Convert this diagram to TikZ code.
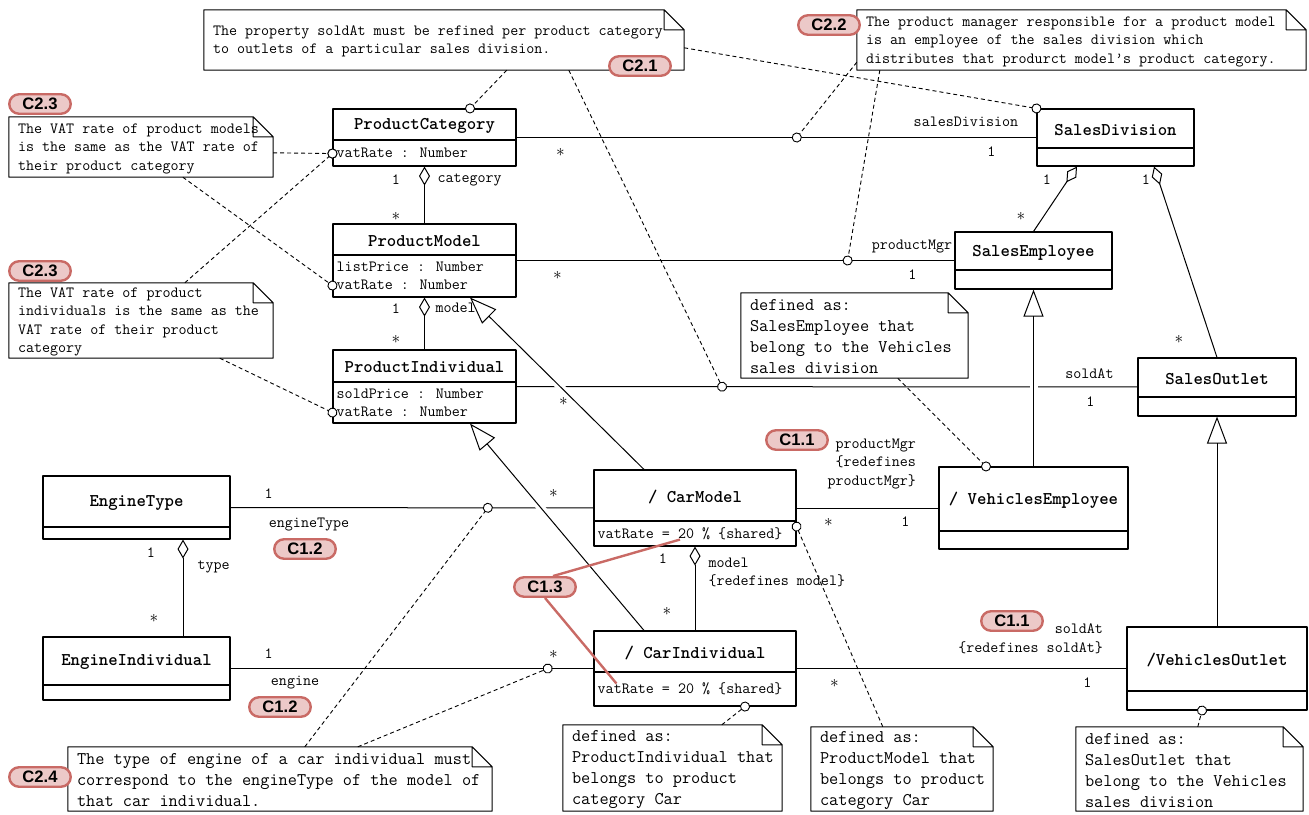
\documentclass[tikz,border=0pt]{standalone}
\usepackage{fontspec}
\newfontfamily\tagfont{Liberation Sans}
\usepackage{xcolor}
\usepackage{tikz}
\usetikzlibrary{positioning, arrows.meta, fit}

\definecolor{tagfill}{RGB}{236,201,200}
\definecolor{tagline}{RGB}{201,106,101}

\newcommand{\umlfont}{\fontsize{15.6}{18.5}\selectfont\ttfamily}
\newcommand{\umlattrfont}{\fontsize{15.6}{18}\selectfont\ttfamily}
\newcommand{\umlbigfont}{\fontsize{17.8}{21}\selectfont\ttfamily}
\newcommand{\umltitlefont}{\fontsize{17.9}{21}\selectfont\ttfamily\bfseries}

\tikzset{
  classbox/.style={draw, line width=1.1pt, inner sep=0pt},
  classname/.style={font=\umltitlefont, inner sep=0pt, yshift=-1.5pt},
  attrtext/.style={font=\umlattrfont, align=left, inner xsep=3.5pt, inner ysep=0pt},
  notebox/.style={inner sep=0pt},
  notetext/.style={align=left, inner xsep=9pt, inner ysep=0pt, yshift=-1.5pt},
  mult/.style={font=\umlfont, inner sep=0pt},
  many/.style={font=\fontsize{19}{19}\selectfont, inner sep=0pt},
  role/.style={font=\umlfont, inner sep=0pt, align=left},
  assoc/.style={line width=1pt},
  aggr/.style={line width=1pt, {Diamond[open, length=19pt, width=11pt]}-},
  gen/.style={line width=1pt, -{Triangle[open, length=27pt, width=20pt]},
    preaction={draw=white, line width=8pt, -, shorten <=8pt, shorten >=30pt}},
  notelink/.style={line width=0.9pt, dash pattern=on 4pt off 3pt,
    -{Circle[length=10pt, fill=white]}, shorten >=-5pt},
  tag/.style={draw=tagline, fill=tagfill, line width=2.4pt, rounded corners=9.75pt,
    minimum width=61.5pt, minimum height=19.5pt, inner sep=0pt,
    font=\tagfont\bfseries\fontsize{16.6}{18}\selectfont},
  redline/.style={draw=tagline, line width=2.4pt}
}

% class box: name, left, top, right, divider, bottom, title, attributes
\newcommand{\umlclass}[8]{%
  \node[classbox, fit={(#2,#3) (#4,#6)}] (#1) {};
  \draw[line width=1.1pt] (#2,#5) -- (#4,#5);
  \path (#2,#3) -- node[classname] (#1-title) {#7} (#4,#5);
  \path (#2,#5) -- node[attrtext, right] (#1-attr) {#8} (#2,#6);}

% note with folded corner: name, left, top, right, bottom, font, text
\newcommand{\umlnote}[7]{%
  \node[notebox, fit={(#2,#3) (#4,#5)}] (#1) {};
  \draw[line width=1pt] (#1.north west) -- ([xshift=-20pt]#1.north east)
    -- ([yshift=-20pt]#1.north east) -- (#1.south east) -- (#1.south west) -- cycle
    ([xshift=-20pt]#1.north east) |- ([yshift=-20pt]#1.north east);
  \node[notetext, font=#6, right] (#1-text) at (#1.west) {#7};}

\begin{document}
\begin{tikzpicture}[x=1pt, y=-1pt, line join=round]
\useasboundingbox (0,0) rectangle (1309,814);

% Classes
\umlclass{pc}{333}{109}{516}{140}{166}{ProductCategory}{vatRate : Number}
\umlclass{pm}{333}{224}{516}{255}{297}{ProductModel}{listPrice : Number\\vatRate : Number}
\umlclass{pi}{333}{350}{516}{382}{423}{ProductIndividual}{soldPrice : Number\\vatRate : Number}
\umlclass{sd}{1037}{109}{1194}{148}{166}{SalesDivision}{}
\umlclass{se}{955}{232}{1112}{270}{289}{SalesEmployee}{}
\umlclass{so}{1138}{358}{1296}{397}{416}{SalesOutlet}{}
\umlclass{ve}{939}{467}{1128}{531}{549}{/ VehiclesEmployee}{}
\umlclass{vo}{1127}{627}{1307}{691}{710}{/VehiclesOutlet}{}
\umlclass{et}{43}{476}{230}{527}{539}{EngineType}{}
\umlclass{ei}{43}{637}{230}{685}{700}{EngineIndividual}{}
\umlclass{cm}{594}{470}{796}{521}{546}{/ CarModel}{vatRate = 20 \% \{shared\}}
\umlclass{ci}{594}{631}{796}{672}{706}{/ CarIndividual}{vatRate = 20 \% \{shared\}}

% Notes
\umlnote{n21}{204}{10}{684}{70}{\umlfont}{The property soldAt must be refined per product category\\to outlets of a particular sales division.}
\umlnote{n22}{857}{10}{1306}{70}{\umlfont}{The product manager responsible for a product model\\is an employee of the sales division which\\distributes that produrct model’s product category.}
\umlnote{n23a}{9}{117}{273}{177}{\umlfont}{The VAT rate of product models\\is the same as the VAT rate of\\their product category}
\umlnote{n23b}{9}{283}{273}{358}{\umlfont}{The VAT rate of product\\individuals is the same as the\\VAT rate of their product\\category}
\umlnote{nve}{741}{293}{968}{378}{\umlbigfont}{defined as:\\SalesEmployee that\\belong to the Vehicles\\sales division}
\umlnote{n24}{68}{747}{492}{811}{\umlbigfont}{The type of engine of a car individual must\\correspond to the engineType of the model of\\that car individual.}
\umlnote{nci}{563}{725}{782}{811}{\umlbigfont}{defined as:\\ProductIndividual that\\belongs to product\\category Car}
\umlnote{ncm}{811}{727}{993}{811}{\umlbigfont}{defined as:\\ProductModel that\\belongs to product\\category Car}
\umlnote{nvo}{1076}{727}{1303}{811}{\umlbigfont}{defined as:\\SalesOutlet that\\belong to the Vehicles\\sales division}

% Associations
\draw[assoc] (pc) -- coordinate[pos=0.539] (pc-sd) (sd)
  node[many, pos=0, xshift=44pt, yshift=-15pt] {$\ast$}
  node[role, pos=1, xshift=-70.5pt, yshift=16pt] {salesDivision}
  node[mult, pos=1, xshift=-45pt, yshift=-14pt] {1};
\draw[assoc] (pm) -- coordinate[pos=0.756] (pm-se) (se)
  node[many, pos=0, xshift=41pt, yshift=-14.5pt] {$\ast$}
  node[role, pos=1, xshift=-42.5pt, yshift=13.5pt] {productMgr}
  node[mult, pos=1, xshift=-42pt, yshift=-14.5pt] {1};
\draw[assoc] (pi) -- coordinate[pos=0.331] (pi-so) (so)
  node[many, pos=0, xshift=47pt, yshift=-14.5pt] {$\ast$}
  node[role, pos=1, xshift=-48pt, yshift=13.5pt] {soldAt}
  node[mult, pos=1, xshift=-47pt, yshift=-14.5pt] {1};
\draw[assoc] (et) -- coordinate[pos=0.709] (et-cm) (cm)
  node[mult, pos=0, xshift=38pt, yshift=14pt] {1}
  node[role, pos=0, xshift=78.5pt, yshift=-17pt] {engineType}
  node[many, pos=1, xshift=-40pt, yshift=14pt] {$\ast$};
\draw[assoc] (ei) -- coordinate[pos=0.874] (ei-ci) (ci)
  node[mult, pos=0, xshift=38pt, yshift=14.5pt] {1}
  node[role, pos=0, xshift=64.5pt, yshift=-14.5pt] {engine}
  node[many, pos=1, xshift=-40pt, yshift=14.5pt] {$\ast$};
\draw[assoc] (cm) -- (ve)
  node[many, pos=0, xshift=32pt, yshift=-14pt] {$\ast$}
  node[role, pos=1, anchor=east, align=right, xshift=-22pt, yshift=44pt] {productMgr\\\{redefines\\productMgr\}}
  node[mult, pos=1, xshift=-33pt, yshift=-14pt] {1};
\draw[assoc] (ci) -- (vo)
  node[many, pos=0, xshift=38pt, yshift=-14.5pt] {$\ast$}
  node[role, pos=1, anchor=east, align=right, xshift=-23pt, yshift=29.5pt] {soldAt\\\{redefines soldAt\}}
  node[mult, pos=1, xshift=-39pt, yshift=-14.5pt] {1};

% Aggregations
\draw[aggr] (pc) -- (pm)
  node[mult, pos=0, xshift=-28.5pt, yshift=-13pt] {1}
  node[role, pos=0, anchor=west, xshift=12.5pt, yshift=-13pt] {category}
  node[many, pos=1, xshift=-28.5pt, yshift=7pt] {$\ast$};
\draw[aggr] (pm) -- (pi)
  node[mult, pos=0, xshift=-28.5pt, yshift=-11pt] {1}
  node[role, pos=0, anchor=west, xshift=10.5pt, yshift=-10pt] {model}
  node[many, pos=1, xshift=-28.5pt, yshift=10pt] {$\ast$};
\draw[aggr] ([xshift=46.5pt]et.south) -- ([xshift=46.5pt]ei.north)
  node[mult, pos=0, xshift=-32pt, yshift=-13pt] {1}
  node[role, pos=0, anchor=west, xshift=14pt, yshift=-27pt] {type}
  node[many, pos=1, xshift=-29pt, yshift=18pt] {$\ast$};
\draw[aggr] (cm) -- (ci)
  node[mult, pos=0, xshift=-32pt, yshift=-12pt] {1}
  node[role, pos=0, anchor=west, xshift=13pt, yshift=-26pt] {model\\\{redefines model\}}
  node[many, pos=1, xshift=-28pt, yshift=19pt] {$\ast$};
\draw[aggr] ([xshift=-38.5pt]sd.south) -- (se.north)
  node[mult, pos=0, xshift=-30pt, yshift=-13pt] {1}
  node[many, pos=1, xshift=-12.5pt, yshift=15pt] {$\ast$};
\draw[aggr] ([xshift=38.5pt]sd.south) -- (so.north)
  node[mult, pos=0, xshift=-8pt, yshift=-13pt] {1}
  node[many, pos=1, xshift=-38pt, yshift=18pt] {$\ast$};

% Note links
\draw[notelink] ([xshift=303pt]n21.south west) -- ([xshift=45.5pt]pc.north);
\draw[notelink] ([xshift=365pt]n21.south west) -- (pi-so);
\draw[notelink] ([yshift=-38pt]n21.north east) -- (sd.north west);
\draw[notelink] ([yshift=8pt]n22.south west) -- (pc-sd);
\draw[notelink] ([xshift=23pt]n22.south west) -- (pm-se);
\draw[notelink] ([yshift=-36pt]n23a.north east) -- ([yshift=13pt]pc.south west);
\draw[notelink] ([xshift=174pt]n23a.south west) -- ([yshift=12pt]pm.south west);
\draw[notelink] ([xshift=176pt]n23b.north west) -- ([yshift=13pt]pc.south west);
\draw[notelink] ([xshift=211pt]n23b.south west) -- ([yshift=11pt]pi.south west);
\draw[notelink] ([xshift=157pt]nve.south west) -- ([xshift=-47.5pt]ve.north);
\draw[notelink] ([xshift=237pt]n24.north west) -- (et-cm);
\draw[notelink] ([xshift=290pt]n24.north west) -- (ei-ci);
\draw[notelink] ([xshift=159pt]nci.north west) -- ([xshift=50pt]ci.south);
\draw[notelink] ([xshift=72pt]ncm.north west) -- ([yshift=20pt]cm.south east);
\draw[notelink] ([xshift=122pt]nvo.north west) -- ([xshift=-15pt]vo.south);

% Generalizations
\draw[gen] ([xshift=-51pt]cm.north) -- ([xshift=45.5pt]pm.south);
\draw[gen] ([xshift=-51pt]ci.north) -- ([xshift=45.5pt]pi.south);
\draw[gen] (ve) -- (se);
\draw[gen] (vo) -- (so);

% Constraint tags
\node[tag] (c21) at (640,66) {C2.1};
\node[tag] (c22) at (829,25) {C2.2};
\node[tag] (c23a) at (40,104) {C2.3};
\node[tag] (c23b) at (40,271) {C2.3};
\node[tag] (c24) at (40,777) {C2.4};
\node[tag] (c11a) at (797,440) {C1.1};
\node[tag] (c11b) at (1012,621) {C1.1};
\node[tag] (c12a) at (305,549) {C1.2};
\node[tag] (c12b) at (280,707) {C1.2};
\node[tag] (c13) at (545,587) {C1.3};
\coordinate (cm-vat) at ([shift={(-15pt,7pt)}]cm.south);
\coordinate (ci-vat) at ([shift={(23pt,23pt)}]ci.south west);
\draw[redline] ([xshift=8pt]c13.north) -- (cm-vat);
\draw[redline] (c13.south) -- (ci-vat);
\end{tikzpicture}
\end{document}
